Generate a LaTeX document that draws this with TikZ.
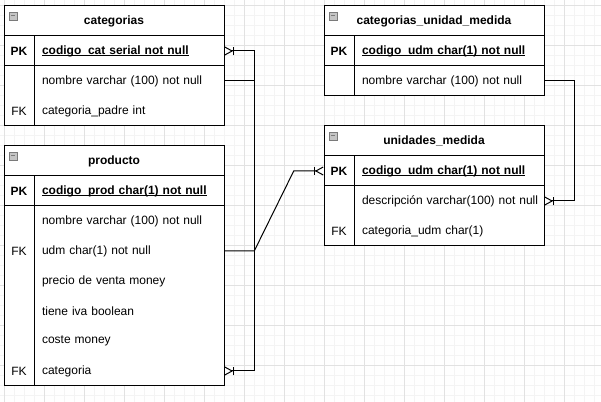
\documentclass[tikz,border=0pt]{standalone}
\usepackage{fontspec}
\setmainfont{Liberation Sans}
\usetikzlibrary{arrows.meta}
\definecolor{gridmaj}{HTML}{E2E2E2}
\definecolor{gridmin}{HTML}{F4F4F4}
\definecolor{iconfill}{HTML}{C4C4C4}
\definecolor{iconline}{HTML}{7A7A7A}
\newcommand{\ulx}[1]{\leavevmode\setbox0=\hbox{#1}\rlap{\rule[-1.5pt]{\wd0}{0.75pt}}\box0}
\tikzset{
  tbl/.style={draw=black, line width=0.75pt, fill=white},
  hdr/.style={draw=black, line width=0.75pt, fill=white, minimum width=165pt, minimum height=22.5pt, inner sep=0pt, font=\bfseries\fontsize{9}{10.8}\selectfont},
  rowtxt/.style={inner xsep=6pt, inner ysep=0pt, text width=130.5pt, minimum height=22.5pt, align=left, font=\fontsize{9}{10.8}\selectfont},
  pkrow/.style={rowtxt, font=\bfseries\fontsize{9}{10.8}\selectfont},
  keytxt/.style={inner sep=0pt, minimum width=22.5pt, minimum height=22.5pt, font=\fontsize{9}{10.8}\selectfont},
  pkkey/.style={keytxt, font=\bfseries\fontsize{9}{10.8}\selectfont},
  conn/.style={draw=black, line width=0.75pt},
  cfend/.style={conn, -{Bar[width=6.5pt] Straight Barb[reversed, length=5.5pt, width=6pt]}},
  cfboth/.style={conn, {Straight Barb[reversed, length=5.5pt, width=6pt] Bar[width=6.5pt]}-{Bar[width=6.5pt] Straight Barb[reversed, length=5.5pt, width=6pt]}},
  iconbox/.style={draw=iconline, fill=iconfill, line width=0.5pt}
}
\begin{document}
\begin{tikzpicture}[x=0.75pt, y=-0.75pt]
\useasboundingbox (0,0) rectangle (601,402);
\fill[white] (0,0) rectangle (601,402);
% grid
\foreach \i in {4,14,...,604} \draw[gridmin, line width=0.75pt] (\i,0) -- (\i,402);
\foreach \j in {6,16,...,406} \draw[gridmin, line width=0.75pt] (0,\j) -- (601,\j);
\foreach \i in {4,44,...,604} \draw[gridmaj, line width=0.75pt] (\i,0) -- (\i,402);
\foreach \j in {6,46,...,406} \draw[gridmaj, line width=0.75pt] (0,\j) -- (601,\j);

% ---------- categorias ----------
\draw[tbl] (4,36) rectangle (224,126);
\draw[tbl] (4,66) -- (224,66);
\draw[tbl] (34,36) -- (34,126);
\node[hdr] (cathdr) at (114,21) {categorias};
\draw[iconbox] (9,12) rectangle (17,20);
\draw[iconline, line width=0.75pt] (11,16) -- (15,16);
\node[pkkey] (catpkk) at (19,51) {PK};
\node[pkrow] (catpk) at (129,51) {\ulx{codigo\_cat serial not null}};
\node[rowtxt] (catnom) at (129,81) {nombre varchar (100) not null};
\node[keytxt] (catfkk) at (19,111) {FK};
\node[rowtxt] (catpad) at (129,111) {categoria\_padre int};

% ---------- producto ----------
\draw[tbl] (4,176) rectangle (224,386);
\draw[tbl] (4,206) -- (224,206);
\draw[tbl] (34,176) -- (34,386);
\node[hdr] (prodhdr) at (114,161) {producto};
\draw[iconbox] (9,152) rectangle (17,160);
\draw[iconline, line width=0.75pt] (11,156) -- (15,156);
\node[pkkey] (prodpkk) at (19,191) {PK};
\node[pkrow] (prodpk) at (129,191) {\ulx{codigo\_prod char(1) not null}};
\node[rowtxt] (prodnom) at (129,221) {nombre varchar (100) not null};
\node[keytxt] (prodfk1) at (19,251) {FK};
\node[rowtxt] (produdm) at (129,251) {udm char(1) not null};
\node[rowtxt] (prodpre) at (129,281) {precio de venta money};
\node[rowtxt] (prodiva) at (129,311) {tiene iva boolean};
\node[rowtxt] (prodcos) at (129,341) {coste money};
\node[keytxt] (prodfk2) at (19,371) {FK};
\node[rowtxt] (prodcat) at (129,371) {categoria};

% ---------- categorias_unidad_medida ----------
\draw[tbl] (324,36) rectangle (544,96);
\draw[tbl] (324,66) -- (544,66);
\draw[tbl] (354,36) -- (354,96);
\node[hdr] (cumhdr) at (434,21) {categorias\_unidad\_medida};
\draw[iconbox] (329,12) rectangle (337,20);
\draw[iconline, line width=0.75pt] (331,16) -- (335,16);
\node[pkkey] (cumpkk) at (339,51) {PK};
\node[pkrow] (cumpk) at (449,51) {\ulx{codigo\_udm char(1) not null}};
\node[rowtxt] (cumnom) at (449,81) {nombre varchar (100) not null};

% ---------- unidades_medida ----------
\draw[tbl] (324,156) rectangle (544,246);
\draw[tbl] (324,186) -- (544,186);
\draw[tbl] (354,156) -- (354,246);
\node[hdr] (umhdr) at (434,141) {unidades\_medida};
\draw[iconbox] (329,132) rectangle (337,140);
\draw[iconline, line width=0.75pt] (331,136) -- (335,136);
\node[pkkey] (umpkk) at (339,171) {PK};
\node[pkrow] (umpk) at (449,171) {\ulx{codigo\_udm char(1) not null}};
\node[rowtxt] (umdesc) at (449,201) {\mbox{descripción varchar(100) not null}};
\node[keytxt] (umfkk) at (339,231) {FK};
\node[rowtxt] (umcat) at (449,231) {categoria\_udm char(1)};

% ---------- connectors ----------
\coordinate (jcat) at (254,81);
\draw[cfboth] (catpk.east) -- ++(30,0) |- (prodcat.east);
\draw[conn] (catnom.east) -- (jcat);
\draw[cfend] (produdm.east) -- ++(30,0) -- ([xshift=-22.5pt]umpkk.west) -- (umpkk.west);
\draw[cfend] (cumnom.east) -- ++(30,0) |- (umdesc.east);
\end{tikzpicture}
\end{document}
